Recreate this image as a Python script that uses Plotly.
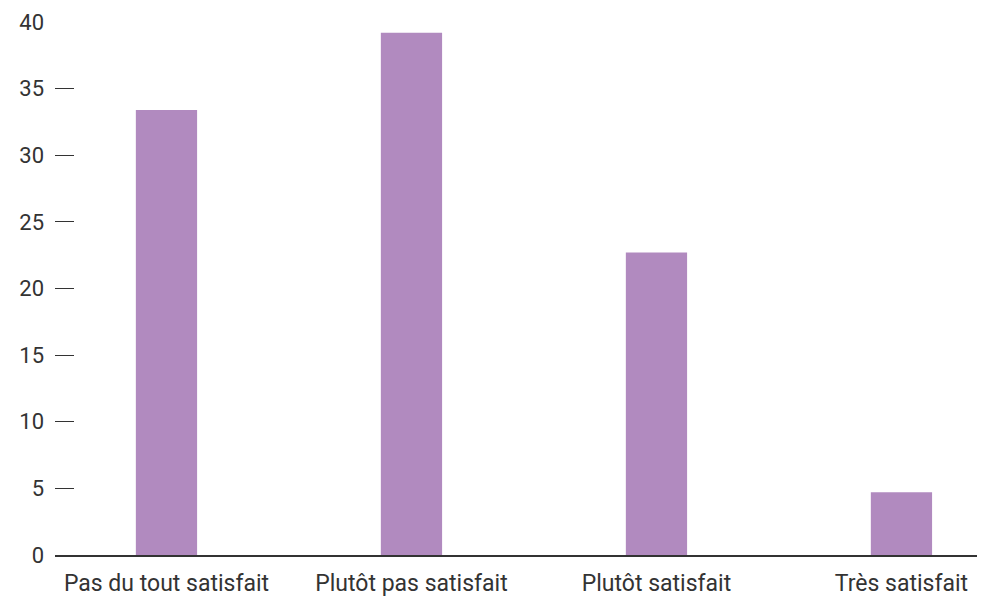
import plotly.graph_objects as go

categories = ["Pas du tout satisfait", "Plutôt pas satisfait", "Plutôt satisfait", "Très satisfait"]
values = [33.4, 39.2, 22.7, 4.7]
y_ticks = [0, 5, 10, 15, 20, 25, 30, 35, 40]

fig = go.Figure()
fig.add_trace(go.Bar(
    x=categories,
    y=values,
    marker=dict(color="#b18abf", line=dict(width=0)),
    hoverinfo="x+y"
))

# the page body has an 8px margin, so the margins are shifted by it
fig.update_layout(
    width=985,
    height=596,
    plot_bgcolor="white",
    paper_bgcolor="white",
    showlegend=False,
    bargap=0.75,
    font=dict(family="Roboto", size=22, color="#333333"),
    margin=dict(l=47, r=8, t=14, b=49, autoexpand=False),
    xaxis=dict(
        range=[-0.455, 3.341],
        showline=True,
        linecolor="#333333",
        linewidth=1.5,
        ticks="",
        showgrid=False,
        tickfont=dict(size=23),
        ticklabelstandoff=7,
        automargin=False,
    ),
    yaxis=dict(
        range=[0, 40],
        tickvals=y_ticks,
        showgrid=False,
        zeroline=False,
        showline=False,
        ticks="inside",
        ticklen=19,
        tickwidth=1,
        tickcolor="#333333",
        ticklabelstandoff=10,
        automargin=False,
    ),
)

fig.write_html("out.html")
